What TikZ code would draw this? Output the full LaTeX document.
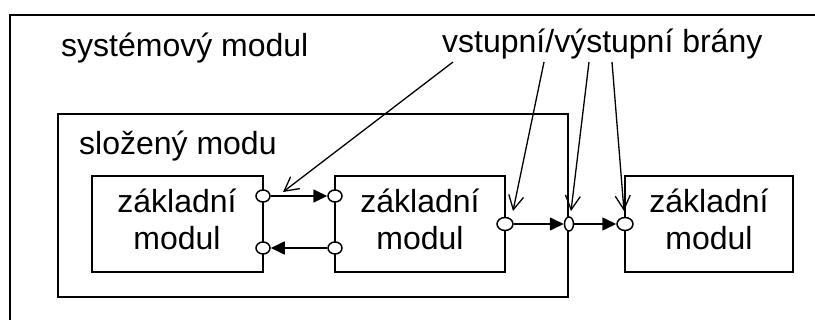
\documentclass[tikz,border=0pt]{standalone}
\usepackage{fontspec}
\setmainfont{Liberation Sans}
\usetikzlibrary{shapes.geometric,arrows.meta}
\begin{document}
\begin{tikzpicture}[x=1pt,y=-1pt,
  txt/.style={inner sep=0pt,font=\fontsize{32}{37}\selectfont},
  basic/.style={draw,line width=2.2pt,minimum width=#1,minimum height=96pt,inner sep=0pt},
  port/.style={draw,ellipse,fill=white,line width=1.5pt,inner sep=0pt,minimum width=14pt,minimum height=12pt},
  flow/.style={line width=1.6pt,-{Triangle[length=14pt,width=13pt]}},
  leader/.style={line width=1.3pt,-{Straight Barb[length=14pt,width=15pt,line width=1.3pt]}}]
\useasboundingbox (0,0) rectangle (815,320);
% outer frame (system module), cut by the page edges
\draw[line width=1.5pt] (815,15) -- (10,15) -- (10,320);
% composite module
\node[draw,line width=1.7pt,minimum width=510pt,minimum height=183pt,inner sep=0pt] (comp) at (313,205.5) {};
% basic modules
\node[basic=171pt] (m1) at (177.5,224) {};
\node[basic=170pt] (m2) at (420,224) {};
\node[basic=168pt] (m3) at (709,224) {};
\node[txt,anchor=south,align=center,text depth=0pt] (m1t) at (177,250) {základní\\modul};
\node[txt,anchor=south,align=center,text depth=0pt] (m2t) at (420,250) {základní\\modul};
\node[txt,anchor=south,align=center,text depth=0pt] (m3t) at (709,250) {základní\\modul};
% labels
\node[txt,anchor=base west] (sys) at (61,57) {systémový modul};
\node[txt,anchor=base west] (sl) at (79,155) {složený modu};
\node[txt,anchor=base west] (io) at (442,53) {vstupní/výstupní brány};
% ports
\node[port] (p1o) at (263,196) {};
\node[port] (p1i) at (263,248) {};
\node[port] (p2i) at (335,196) {};
\node[port] (p2o) at (335,248) {};
\node[port,minimum width=16pt,minimum height=13pt] (p2r) at (505,224) {};
\node[port,minimum width=9pt,minimum height=14pt] (pc) at (569,224) {};
\node[port,minimum width=16pt,minimum height=13pt] (p3) at (625,224) {};
% flows
\draw[flow] (p1o) -- (p2i);
\draw[flow] (p2o) -- (p1i);
\draw[flow] (p2r) -- (pc);
\draw[flow] (pc) -- (p3);
% leader lines
\coordinate (l1s) at (453,62);
\coordinate (l1e) at (283,192);
\coordinate (l2s) at (544,62);
\coordinate (l2e) at (513,211);
\coordinate (l3s) at (589,62);
\coordinate (l3e) at (571,211);
\coordinate (l4s) at (612,62);
\coordinate (l4e) at (624,211);
\draw[leader] (l1s) -- (l1e);
\draw[leader] (l2s) -- (l2e);
\draw[leader] (l3s) -- (l3e);
\draw[leader] (l4s) -- (l4e);
\end{tikzpicture}
\end{document}
